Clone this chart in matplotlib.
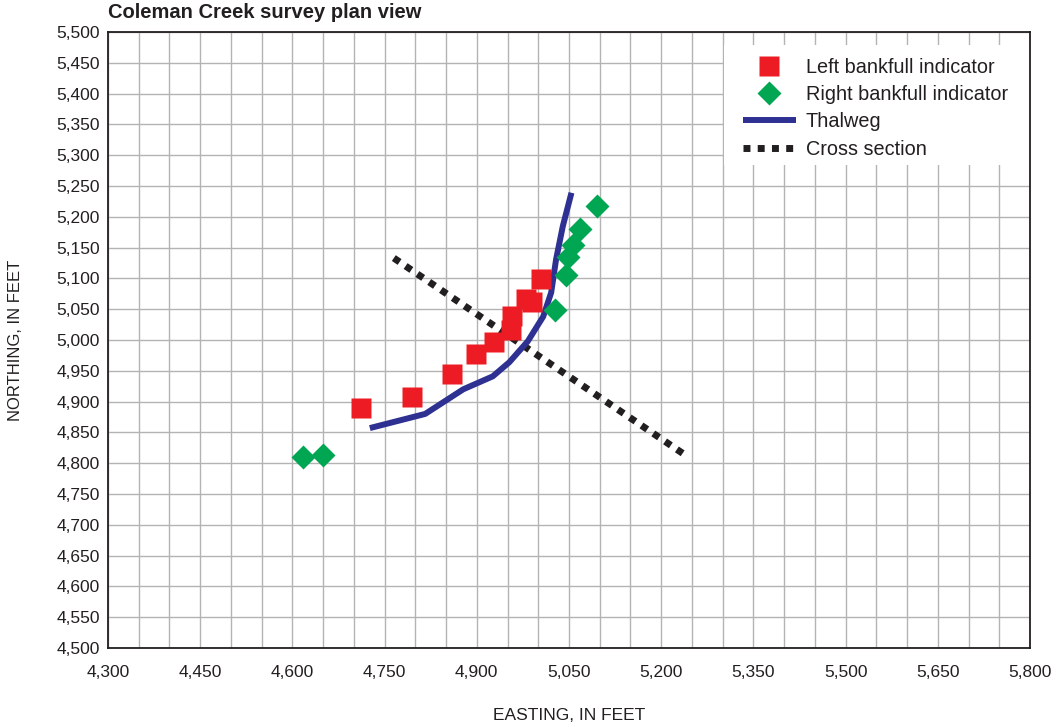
import matplotlib
matplotlib.use("Agg")
import matplotlib.pyplot as plt
from matplotlib.patches import Rectangle
from matplotlib.ticker import MultipleLocator, FixedLocator, FuncFormatter

plt.rcParams['font.family'] = ['Liberation Sans', 'DejaVu Sans']

# Survey points (easting, northing in feet)
left_e = [4712, 4795, 4860, 4898, 4928, 4956, 4958, 4980, 4990, 5005]
left_n = [4890, 4908, 4944, 4978, 4996, 5017, 5039, 5067, 5062, 5099]

right_e = [4618, 4649, 5027, 5045, 5048, 5056, 5068, 5095]
right_n = [4810, 4814, 5048, 5106, 5134, 5155, 5180, 5217]

thalweg_e = [4726, 4816, 4878, 4926, 4953, 4983, 5008, 5021, 5029, 5040, 5054]
thalweg_n = [4857, 4880, 4920, 4941, 4964, 4998, 5038, 5077, 5131, 5185, 5239]

xsec_e = [4765, 5235]
xsec_n = [5133, 4816]

x_ticks = [4300, 4450, 4600, 4750, 4900, 5050, 5200, 5350, 5500, 5650, 5800]

fig = plt.figure(figsize=(10.57, 7.27), dpi=100)
ax = fig.add_axes([108/1057, 1 - 648/727, 922/1057, 616/727])

ax.plot(xsec_e, xsec_n, color='#231F20', lw=5, dashes=(1, 1.05),
        dash_capstyle='butt', label='Cross section', zorder=3)
ax.plot(thalweg_e, thalweg_n, color='#2E3192', lw=4.3,
        solid_capstyle='butt', label='Thalweg', zorder=4)
ax.plot(left_e, left_n, 's', color='#ED1C24', ms=14.5, mec='none',
        label='Left bankfull indicator', zorder=5)
ax.plot(right_e, right_n, 'D', color='#00A651', ms=12, mec='none',
        label='Right bankfull indicator', zorder=5)

ax.set_xlim(4300, 5800)
ax.set_ylim(4500, 5500)
ax.xaxis.set_major_locator(FixedLocator(x_ticks))
ax.xaxis.set_minor_locator(MultipleLocator(50))
ax.yaxis.set_major_locator(MultipleLocator(50))
fmt = FuncFormatter(lambda v, p: f"{int(round(v)):,}")
ax.xaxis.set_major_formatter(fmt)
ax.yaxis.set_major_formatter(fmt)
ax.grid(True, which='both', color='#b3b3b3', lw=1)
ax.set_axisbelow(True)
ax.tick_params(axis='x', which='both', length=0, pad=12, labelsize=12.5, colors='#231F20')
ax.tick_params(axis='y', which='both', length=0, pad=6, labelsize=12.5, colors='#231F20')
for s in ax.spines.values():
    s.set_color('#231F20')
    s.set_linewidth(1.3)

ax.set_xlabel('EASTING, IN FEET', fontsize=12.5, color='#231F20')
ax.set_ylabel('NORTHING, IN FEET', fontsize=12, color='#231F20')
ax.xaxis.set_label_coords(0.5, -0.0974)
ax.yaxis.set_label_coords(-0.0922, 0.5)

fig.text(108/1057, 1 - 13/727, 'Coleman Creek survey plan view',
         fontsize=14.5, fontweight='bold', color='#231F20', va='center', ha='left')

# white panel behind the legend, covering the grid
ax.add_patch(Rectangle((0.668, 0.784), 0.332, 0.195, transform=ax.transAxes,
                       facecolor='white', edgecolor='none', zorder=2))

h, l = ax.get_legend_handles_labels()
order = [2, 3, 1, 0]
leg = ax.legend([h[i] for i in order], [l[i] for i in order], loc='upper left',
                bbox_to_anchor=(0.6887, 0.9576), borderaxespad=0, borderpad=0,
                fontsize=14.3, frameon=False, handlelength=2.65,
                handletextpad=0.5, labelspacing=0.41)
for t in leg.get_texts():
    t.set_color('#231F20')

fig.savefig('out.png', dpi=100)
